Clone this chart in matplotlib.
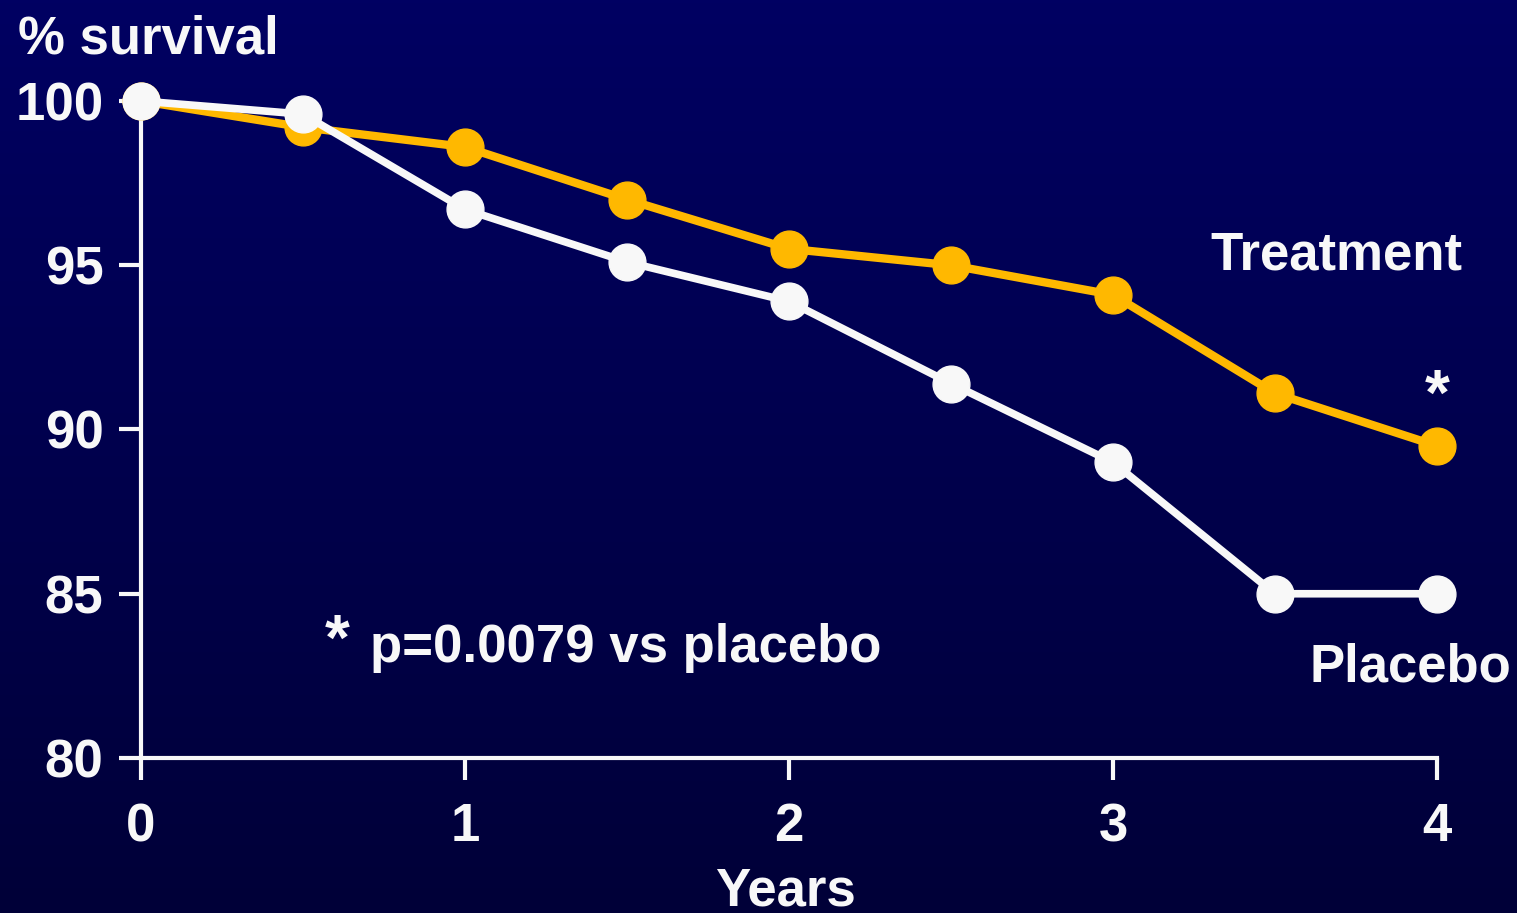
import numpy as np
import matplotlib
matplotlib.use("Agg")
import matplotlib.pyplot as plt

plt.rcParams['font.family'] = ['Liberation Sans', 'DejaVu Sans']
plt.rcParams['font.weight'] = 'bold'

# survival data, % alive at each half-year
years = [0, 0.5, 1, 1.5, 2, 2.5, 3, 3.5, 4]
treatment = [100, 99.2, 98.6, 97.0, 95.5, 95.0, 94.1, 91.1, 89.5]
placebo = [100, 99.6, 96.7, 95.1, 93.9, 91.4, 89.0, 85.0, 85.0]
xticks = [0, 1, 2, 3, 4]
yticks = [80, 85, 90, 95, 100]

W, H = 1517, 913
fig = plt.figure(figsize=(W / 100, H / 100), dpi=100)

# navy gradient backdrop
bg = fig.add_axes([0, 0, 1, 1])
grad = np.linspace(0, 1, 256).reshape(-1, 1)
top = np.array([0, 0, 98]) / 255
bot = np.array([0, 0, 56]) / 255
img = top + (bot - top) * grad[..., None]
bg.imshow(img, aspect='auto', extent=[0, 1, 0, 1])
bg.set_axis_off()

white = '#F8F8F8'
orange = '#FFB800'

ax = fig.add_axes([141 / W, 1 - 758 / H, 1296 / W, 657 / H])
ax.patch.set_alpha(0)
ax.set_xlim(0, 4)
ax.set_ylim(80, 100)

ax.plot(years, treatment, color=orange, lw=6, marker='o', ms=26.5,
        clip_on=False, zorder=3)
ax.plot(years, placebo, color=white, lw=5.5, marker='o', ms=26.5,
        clip_on=False, zorder=4)

for s in ['top', 'right']:
    ax.spines[s].set_visible(False)
for s in ['left', 'bottom']:
    ax.spines[s].set_color(white)
    ax.spines[s].set_linewidth(3)

ax.set_xticks(xticks)
ax.set_yticks(yticks)
ax.tick_params(colors=white, width=3, length=16, labelsize=38)
ax.tick_params(axis='x', pad=16)
ax.tick_params(axis='y', pad=11)
for lab in ax.get_xticklabels() + ax.get_yticklabels():
    lab.set_fontweight('bold')

ax.text(3.69, 95.3, 'Treatment', color=white, fontsize=38, fontweight='bold',
        ha='center', va='center')
ax.text(3.917, 82.75, 'Placebo', color=white, fontsize=38, fontweight='bold',
        ha='center', va='center')
ax.text(4.0, 90.45, '*', color=white, fontsize=46, fontweight='bold',
        ha='center', va='baseline')
ax.text(0.707, 82.92, 'p=0.0079 vs placebo', color=white, fontsize=38,
        fontweight='bold', ha='left', va='baseline')
ax.text(0.605, 83.0, '*', color=white, fontsize=46, fontweight='bold',
        ha='center', va='baseline')

fig.text(18 / W, 1 - 53 / H, '% survival', color=white, fontsize=38,
         fontweight='bold', ha='left', va='baseline')
fig.text(785 / W, 1 - 905 / H, 'Years', color=white, fontsize=38,
         fontweight='bold', ha='center', va='baseline')

fig.savefig('out.png', dpi=100)
